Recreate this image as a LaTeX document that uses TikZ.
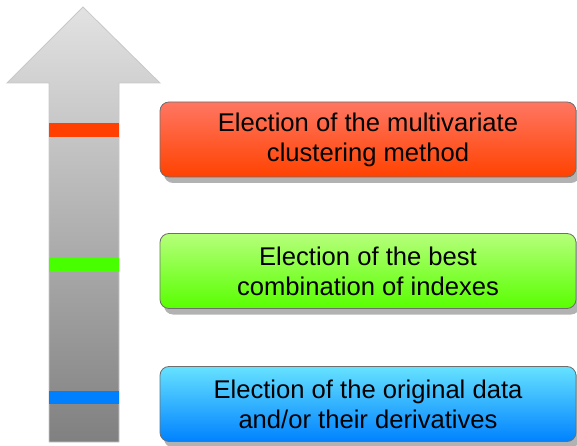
\documentclass[tikz,border=0pt]{standalone}
\usepackage{fontspec}
\setmainfont{Liberation Sans}
\usetikzlibrary{shadows}

\definecolor{arrowtop}{RGB}{226,226,226}
\definecolor{arrowbot}{RGB}{128,128,128}
\definecolor{arrowedge}{RGB}{200,200,200}
\definecolor{boxedge}{RGB}{110,110,110}
\definecolor{redtop}{RGB}{255,118,98}
\definecolor{redbot}{RGB}{255,66,0}
\definecolor{greentop}{RGB}{182,255,122}
\definecolor{greenbot}{RGB}{88,255,0}
\definecolor{bluetop}{RGB}{102,226,255}
\definecolor{bluebot}{RGB}{0,130,255}
\definecolor{redbar}{RGB}{255,64,0}
\definecolor{greenbar}{RGB}{72,255,0}
\definecolor{bluebar}{RGB}{0,128,255}

\tikzset{
  stagebox/.style={draw=boxedge, line width=0.8bp, rounded corners=9bp,
    minimum width=416bp, minimum height=75bp, inner sep=0pt,
    align=center, text=black,
    font=\fontsize{25.6bp}{30bp}\selectfont,
    drop shadow={shadow xshift=4bp, shadow yshift=-6bp, fill=black, opacity=0.3}},
}

\begin{document}
\begin{tikzpicture}[x=1bp,y=-1bp]
\useasboundingbox (0,0) rectangle (577,446);

% upward arrow with a light-to-dark gray gradient
\shade[top color=arrowtop, bottom color=arrowbot, draw=arrowedge, line width=0.8bp]
  (83,7) -- (160,83) -- (119,83) -- (119,442) -- (49,442) -- (49,83) -- (7,83) -- cycle;

% level marks on the arrow shaft
\fill[redbar]   (49,123) rectangle (119,137);
\fill[greenbar] (49,258) rectangle (119,272);
\fill[bluebar]  (49,391) rectangle (119,404);

% stage boxes
\node[stagebox, top color=redtop, bottom color=redbot] (method) at (368,139.5)
  {Election of the multivariate\\clustering method};
\node[stagebox, top color=greentop, bottom color=greenbot] (indexes) at (368,271)
  {Election of the best\\combination of indexes};
\node[stagebox, top color=bluetop, bottom color=bluebot] (data) at (368,404)
  {Election of the original data\\and/or their derivatives};
\end{tikzpicture}
\end{document}
